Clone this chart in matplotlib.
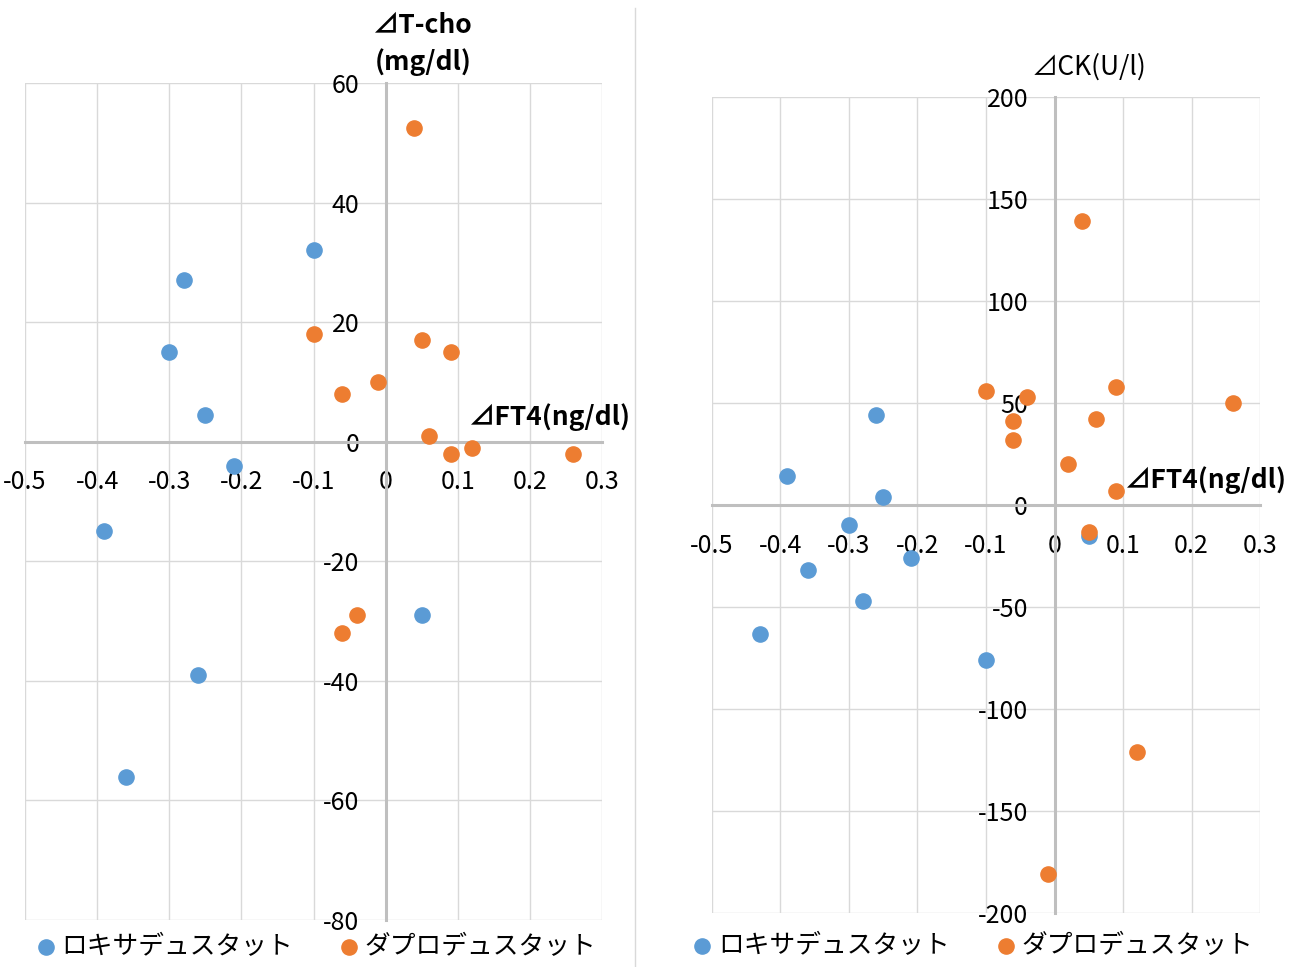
import numpy as np
import matplotlib
matplotlib.use("Agg")
import matplotlib.pyplot as plt
from matplotlib.lines import Line2D

plt.rcParams['font.family'] = ['Noto Sans CJK JP', 'DejaVu Sans']

# データ (⊿FT4, ⊿T-cho)
roxa_ft4_tcho = [-0.10, -0.28, -0.30, -0.25, -0.21, -0.39, 0.05, -0.26, -0.36]
roxa_tcho = [32, 27, 15, 4.5, -4, -15, -29, -39, -56]
dapro_ft4_tcho = [0.04, -0.10, 0.05, 0.09, -0.01, -0.06, 0.06, 0.12, 0.09, 0.26, -0.04, -0.06]
dapro_tcho = [52.5, 18, 17, 15, 10, 8, 1, -1, -2, -2, -29, -32]

# データ (⊿FT4, ⊿CK)
roxa_ft4_ck = [-0.26, -0.39, -0.25, -0.30, -0.21, -0.36, -0.28, -0.43, -0.10, 0.05]
roxa_ck = [44, 14, 4, -10, -26, -32, -47, -63, -76, -15]
dapro_ft4_ck = [0.04, -0.10, -0.04, 0.09, 0.26, -0.06, 0.06, -0.06, 0.02, 0.09, 0.05, 0.12, -0.01]
dapro_ck = [139, 56, 53, 58, 50, 41, 42, 32, 20, 7, -13, -121, -181]

x_ticks = [-0.5, -0.4, -0.3, -0.2, -0.1, 0, 0.1, 0.2, 0.3]
x_labels = ['-0.5', '-0.4', '-0.3', '-0.2', '-0.1', '0', '0.1', '0.2', '0.3']
y_ticks_tcho = [60, 40, 20, 0, -20, -40, -60, -80]
y_ticks_ck = [200, 150, 100, 50, 0, -50, -100, -150, -200]

series_names = ['ロキサデュスタット', 'ダプロデュスタット']
c_blue = '#5B9BD5'
c_orange = '#ED7D31'

fig = plt.figure(figsize=(12.91, 9.67), dpi=100)
ax1 = fig.add_axes([0.0194, 0.0486, 0.4469, 0.8656])
ax2 = fig.add_axes([0.5515, 0.0558, 0.4245, 0.8439])


def setup(ax, yticks):
    ax.set_xlim(-0.5, 0.3)
    ax.set_ylim(min(yticks), max(yticks))
    ax.set_xticks(x_ticks)
    ax.set_xticklabels(x_labels)
    ax.set_yticks(yticks)
    ax.set_yticklabels([str(v) for v in yticks])
    ax.grid(True, color='#D9D9D9', linewidth=1.0, zorder=0)
    ax.set_axisbelow(True)
    for s in ['top', 'right']:
        ax.spines[s].set_visible(False)
    ax.spines['left'].set_position(('data', 0))
    ax.spines['bottom'].set_position(('data', 0))
    for s in ['left', 'bottom']:
        ax.spines[s].set_color('#BFBFBF')
        ax.spines[s].set_linewidth(2.2)
    ax.tick_params(length=0, labelsize=18, colors='black')
    ax.tick_params(axis='x', pad=20)
    ax.tick_params(axis='y', pad=19)


setup(ax1, y_ticks_tcho)
setup(ax2, y_ticks_ck)

ax1.scatter(roxa_ft4_tcho, roxa_tcho, s=120, color=c_blue, zorder=3, label=series_names[0])
ax1.scatter(dapro_ft4_tcho, dapro_tcho, s=120, color=c_orange, zorder=3, label=series_names[1])
ax2.scatter(roxa_ft4_ck, roxa_ck, s=120, color=c_blue, zorder=3, label=series_names[0])
ax2.scatter(dapro_ft4_ck, dapro_ck, s=120, color=c_orange, zorder=3, label=series_names[1])

# 軸タイトル
ax1.text(0.69, 1.069, '⊿T-cho', transform=ax1.transAxes, ha='center', va='center',
         fontsize=19, fontweight='bold')
ax1.text(0.69, 1.025, '(mg/dl)', transform=ax1.transAxes, ha='center', va='center',
         fontsize=19, fontweight='bold')
ax1.text(0.91, 0.601, '⊿FT4(ng/dl)', transform=ax1.transAxes, ha='center', va='center',
         fontsize=19, fontweight='bold')
ax2.text(0.688, 1.037, '⊿CK(U/l)', transform=ax2.transAxes, ha='center', va='center',
         fontsize=19)
ax2.text(0.901, 0.531, '⊿FT4(ng/dl)', transform=ax2.transAxes, ha='center', va='center',
         fontsize=19, fontweight='bold')

ax1.legend(loc='center', bbox_to_anchor=(0.5, -0.032), ncol=2, frameon=False,
           fontsize=18.5, handletextpad=0.0, columnspacing=1.6, handlelength=1.2,
           markerscale=1.0, borderaxespad=0)
ax2.legend(loc='center', bbox_to_anchor=(0.471, -0.040), ncol=2, frameon=False,
           fontsize=18.5, handletextpad=0.0, columnspacing=1.6, handlelength=1.2,
           markerscale=1.0, borderaxespad=0)

fig.add_artist(Line2D([635 / 1291, 635 / 1291], [0, 0.992], color='#D9D9D9', linewidth=1.0))

fig.savefig('out.png', dpi=100)
